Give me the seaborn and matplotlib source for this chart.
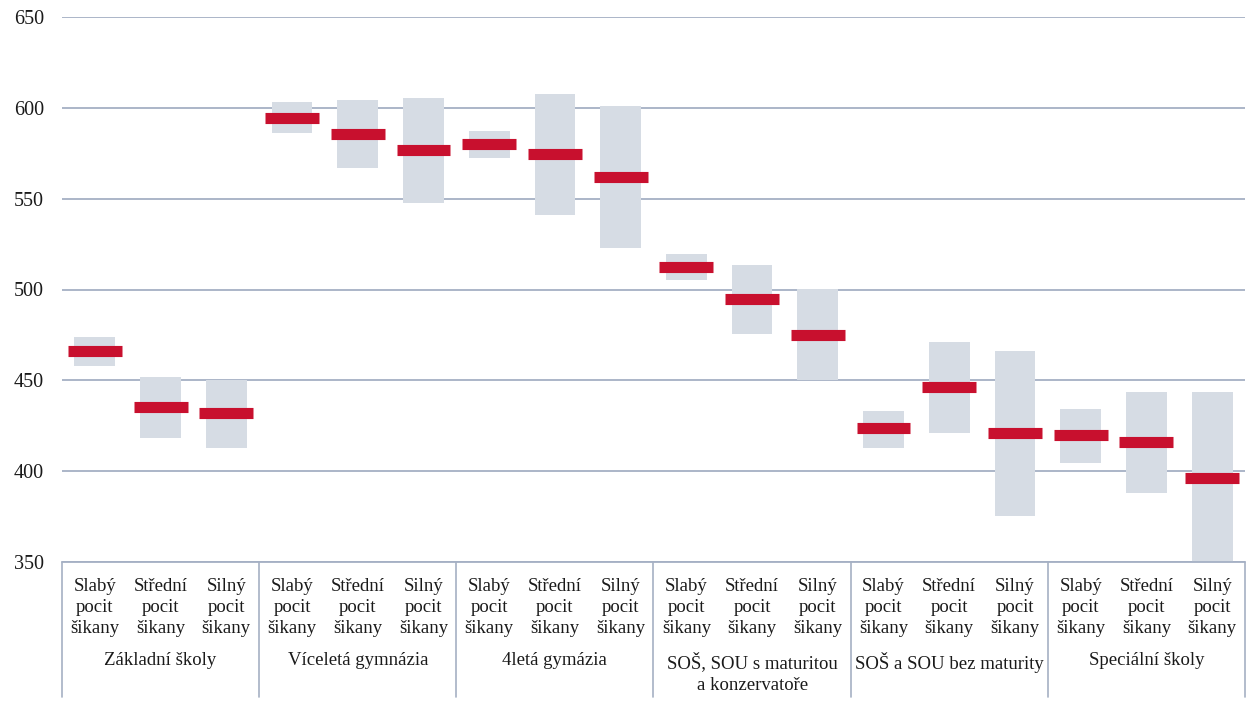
import numpy as np
import pandas as pd
import matplotlib
matplotlib.use("Agg")
import matplotlib.pyplot as plt
import seaborn as sns

# skupiny škol a úrovně pocitu šikany
groups = ["Základní školy", "Víceletá gymnázia", "4letá gymázia",
          "SOŠ, SOU s maturitou\na konzervatoře", "SOŠ a SOU bez maturity",
          "Speciální školy"]
levels = ["Slabý\npocit\nšikany", "Střední\npocit\nšikany", "Silný\npocit\nšikany"]

# průměr a interval (dolní / horní mez) pro každou kombinaci
means = [466, 435.5, 432,
         594.5, 585.5, 577,
         580, 574.5, 562,
         512.5, 495, 475,
         423.5, 446.5, 421,
         420, 416, 396.5]
lows = [458, 418, 412.5,
        586, 567, 547.5,
        572.5, 541, 523,
        505.5, 475.5, 450,
        413, 421, 375.5,
        404.5, 388, 340]
highs = [474, 452, 450,
         603, 604.5, 605.5,
         587, 607.5, 601,
         519.5, 513.5, 500,
         433, 471, 466,
         434, 443.5, 443.5]

df = pd.DataFrame({
    "key": [f"{g}|{i}" for g in range(len(groups)) for i in range(len(levels))],
    "low": lows,
    "span": np.array(highs) - np.array(lows),
    "mean": means,
})

sns.set_theme(style="white")
plt.rcParams["font.family"] = ["Liberation Serif", "DejaVu Serif"]

fig = plt.figure(figsize=(12.5, 7.17), dpi=100)
ax = fig.add_axes([62 / 1250, 1 - 562 / 717, (1245 - 62) / 1250, (562 - 17) / 717])

sns.barplot(data=df, x="key", y="span", bottom=df["low"], color="#D6DCE4",
            saturation=1, width=0.62, linewidth=0, ax=ax, zorder=2)

# červené značky průměru
pos = np.arange(len(df))
ax.hlines(df["mean"], pos - 0.41, pos + 0.41, color="#C8102E", linewidth=8, zorder=3)

ax.set_ylim(350, 650)
ax.set_xlim(-0.5, len(df) - 0.5)
ax.set_yticks(np.arange(350, 651, 50))
ax.yaxis.grid(True, color="#A5B0C4", linewidth=1.3, zorder=1)
ax.set_axisbelow(True)
for s in ax.spines.values():
    s.set_visible(False)
ax.tick_params(axis="y", length=0, pad=13, labelsize=14.5, labelcolor="#1a1a1a")
ax.set_xticks([])
ax.set_xlabel("")
ax.set_ylabel("")

# popisky osy x ve dvou úrovních
trans = ax.get_xaxis_transform()
ax.plot([-0.5, len(df) - 0.5], [0, 0], transform=trans, color="#A5B0C4",
        linewidth=1.3, clip_on=False)
for b in range(len(groups) + 1):
    xb = b * len(levels) - 0.5
    ax.plot([xb, xb], [0, -0.248], transform=trans, color="#A5B0C4",
            linewidth=1.2, clip_on=False)
for i in range(len(df)):
    ax.text(i, -0.029, levels[i % len(levels)], transform=trans, ha="center",
            va="top", fontsize=13.5, linespacing=1.32, color="#1a1a1a")
for g, name in enumerate(groups):
    ax.text(g * len(levels) + 1, -0.166, name, transform=trans, ha="center",
            va="top", fontsize=13.5, linespacing=1.32, color="#1a1a1a")

fig.savefig("out.png", dpi=100)
